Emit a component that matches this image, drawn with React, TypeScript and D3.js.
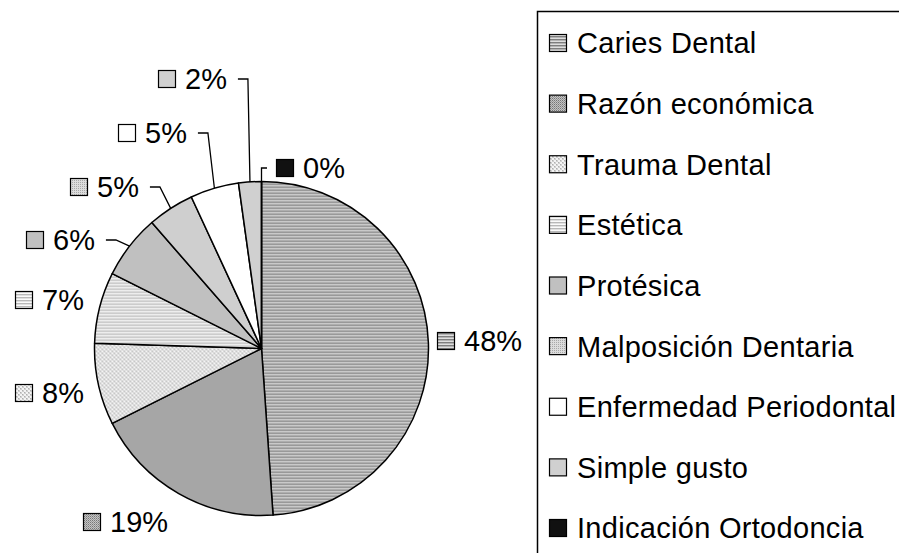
import React from "react";
import * as d3 from "d3";

const categories = [
  "Caries Dental",
  "Razón económica",
  "Trauma Dental",
  "Estética",
  "Protésica",
  "Malposición Dentaria",
  "Enfermedad Periodontal",
  "Simple gusto",
  "Indicación Ortodoncia",
];
const values = [48.9, 18.7, 7.9, 6.9, 6.2, 4.5, 4.7, 2.2, 0];
const percentLabels = ["48%", "19%", "8%", "7%", "6%", "5%", "5%", "2%", "0%"];

// label layout: [square left x, middle y, leader side ('r' = leader to the right, 'l' = left, '' = none)]
const labelLayout: [number, number, string][] = [
  [437, 341, ""],
  [83, 522, ""],
  [15, 393, ""],
  [15, 300, ""],
  [26, 240, "r"],
  [70, 187, "r"],
  [118, 133, "r"],
  [158, 79, "r"],
  [276, 168, "l"],
];

const FONT = "Liberation Sans, Arial, Helvetica, sans-serif";
const FS = 29;

function textWidth(t: string): number {
  if (typeof document === "undefined") return t.length * FS * 0.55;
  const c = document.createElement("canvas").getContext("2d");
  if (!c) return t.length * FS * 0.55;
  c.font = `${FS}px ${FONT}`;
  return c.measureText(t).width;
}

const fills = [
  "url(#pCaries)",
  "url(#pRazon)",
  "url(#pTrauma)",
  "url(#pEstetica)",
  "#c0c0c0",
  "url(#pMalpos)",
  "#ffffff",
  "#d0d0d0",
  "#111111",
];

export default function App() {
  const W = 899;
  const H = 553;
  const cx = 261.5;
  const cy = 348.5;
  const R = 167;

  const pie = d3
    .pie<number>()
    .sort(null)
    .value((d) => d)
    .startAngle(0)
    .endAngle(2 * Math.PI);
  const arcs = pie(values);
  const arc = d3.arc<d3.PieArcDatum<number>>().innerRadius(0).outerRadius(R);

  const legendX = 537;
  const legendY = 11;
  const rowY = d3.scaleLinear().domain([0, categories.length - 1]).range([43, 528]);

  return (
    <svg
      width={W}
      height={H}
      style={{ position: "absolute", left: 0, top: 0, background: "#fff" }}
      fontFamily={FONT}
    >
      <defs>
        <pattern id="pCaries" width="4" height="3" patternUnits="userSpaceOnUse">
          <rect width="4" height="3" fill="#dedede" />
          <rect width="4" height="1" y="0" fill="#7e7e7e" />
          <rect width="4" height="1" y="1" fill="#b4b4b4" />
        </pattern>
        <pattern id="pRazon" width="2" height="2" patternUnits="userSpaceOnUse">
          <rect width="2" height="2" fill="#c4c4c4" />
          <rect width="1" height="1" x="0" y="0" fill="#777777" />
          <rect width="1" height="1" x="1" y="1" fill="#999999" />
        </pattern>
        <pattern id="pTrauma" width="4" height="4" patternUnits="userSpaceOnUse">
          <rect width="4" height="4" fill="#f4f4f4" />
          <rect width="2" height="2" x="0" y="0" fill="#d0d0d0" />
          <rect width="2" height="2" x="2" y="2" fill="#d0d0d0" />
          <rect width="1" height="1" x="0" y="0" fill="#b0b0b0" />
          <rect width="1" height="1" x="2" y="2" fill="#b0b0b0" />
        </pattern>
        <pattern id="pEstetica" width="4" height="3" patternUnits="userSpaceOnUse">
          <rect width="4" height="3" fill="#fafafa" />
          <rect width="4" height="1" y="0" fill="#b8b8b8" />
          <rect width="4" height="1" y="1" fill="#e0e0e0" />
        </pattern>
        <pattern id="pMalpos" width="2" height="2" patternUnits="userSpaceOnUse">
          <rect width="2" height="2" fill="#dcdcdc" />
          <rect width="1" height="1" x="0" y="0" fill="#a8a8a8" />
        </pattern>
      </defs>

      <g transform={`translate(${cx},${cy})`}>
        {arcs.map((a, i) => (
          <path
            key={i}
            d={arc(a) || ""}
            fill={fills[i]}
            stroke="#000"
            strokeWidth={1.5}
            strokeLinejoin="round"
          />
        ))}
      </g>

      {arcs.map((a, i) => {
        const [sx, my, side] = labelLayout[i];
        const tx = sx + 27;
        const tw = textWidth(percentLabels[i]);
        const mid = (a.startAngle + a.endAngle) / 2;
        const ex = cx + R * Math.sin(mid);
        const ey = cy - R * Math.cos(mid);
        let leader = null;
        if (side === "r") {
          const x0 = tx + tw + 11;
          const x1 = x0 + 10;
          leader = (
            <polyline
              points={`${x0},${my} ${x1},${my} ${ex},${ey}`}
              fill="none"
              stroke="#000"
              strokeWidth={1.3}
            />
          );
        } else if (side === "l") {
          const x0 = sx - 9;
          const x1 = ex;
          leader = (
            <polyline
              points={`${x0},${my} ${x1},${my} ${ex},${ey}`}
              fill="none"
              stroke="#000"
              strokeWidth={1.3}
            />
          );
        }
        return (
          <g key={"l" + i}>
            {leader}
            <rect
              x={sx + 0.5}
              y={my - 8.5}
              width={17}
              height={17}
              fill={fills[i]}
              stroke="#000"
              strokeWidth={1.2}
            />
            <text x={tx} y={my + 10.4} fontSize={FS} fill="#000">
              {percentLabels[i]}
            </text>
          </g>
        );
      })}

      <rect
        x={legendX + 0.5}
        y={legendY + 0.5}
        width={W}
        height={H}
        fill="none"
        stroke="#000"
        strokeWidth={1.5}
      />
      {categories.map((c, i) => (
        <g key={"g" + i}>
          <rect
            x={549.5}
            y={rowY(i) - 8.5}
            width={17}
            height={17}
            fill={fills[i]}
            stroke="#000"
            strokeWidth={1.2}
          />
          <text
            x={577}
            y={rowY(i) + 10.4}
            fontSize={FS}
            letterSpacing={0.3}
            fill="#000"
          >
            {c}
          </text>
        </g>
      ))}
    </svg>
  );
}
